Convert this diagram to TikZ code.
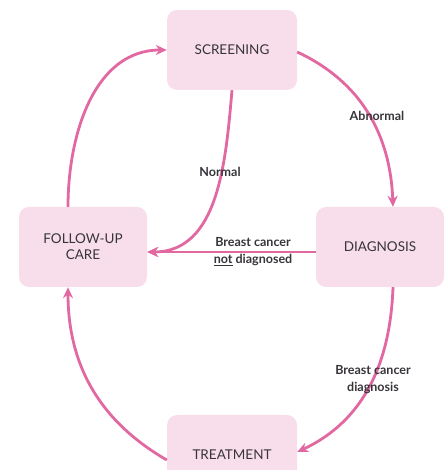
\documentclass[tikz,border=0pt]{standalone}
\usepackage{fontspec}
\setmainfont{Lato}
\usetikzlibrary{arrows.meta}
\definecolor{boxpink}{RGB}{248,222,234}
\definecolor{arrowpink}{RGB}{226,104,162}
\definecolor{inkgray}{RGB}{55,52,58}

\begin{document}
\begin{tikzpicture}[x=1pt,y=1pt,
    stage/.style={fill=boxpink, rounded corners=10pt, minimum width=130pt, minimum height=80pt,
      align=center, text=inkgray, font=\fontsize{13.5}{16}\selectfont},
    flow/.style={arrowpink, line width=2.8pt, -{Stealth[length=11pt,width=10pt]}},
    tag/.style={text=inkgray, align=center, font=\bfseries\fontsize{12.5}{17}\selectfont}]
  \useasboundingbox (0,0) rectangle (444,470);
  \clip (0,0) rectangle (444,470);
  % stages
  \node [stage] (screen) at (232,420) {SCREENING};
  \node [stage, minimum width=128pt] (follow) at (83,223) {FOLLOW-UP\\CARE};
  \node [stage, minimum width=128pt] (diag) at (380,223) {DIAGNOSIS};
  \node [stage] (treat) at (232,15) {TREATMENT};
  % arrows
  \draw [flow] ([yshift=-2pt]screen.east) to[out=-25, in=92] ([xshift=13pt]diag.north);
  \draw [flow] (screen.south) to[out=-95, in=0] ([yshift=-5pt]follow.east);
  \draw [flow] ([yshift=-5pt]diag.west) -- ([yshift=-5pt]follow.east);
  \draw [flow] ([xshift=13pt]diag.south) to[out=-92, in=25] ([yshift=3pt]treat.east);
  \draw [flow] ([yshift=-5pt]treat.west) to[out=150, in=-90] ([xshift=-15pt]follow.south);
  \draw [flow] ([xshift=-15pt]follow.north) to[out=90, in=180] (screen.west);
  % labels
  \node [tag] (abn) at (377,354) {Abnormal};
  \node [tag] (nrm) at (220,298) {Normal};
  \node [tag] (notdx) at (253,218) {Breast cancer\\\underline{not} diagnosed};
  \node [tag] (dx) at (373,90) {Breast cancer\\diagnosis};
\end{tikzpicture}
\end{document}
